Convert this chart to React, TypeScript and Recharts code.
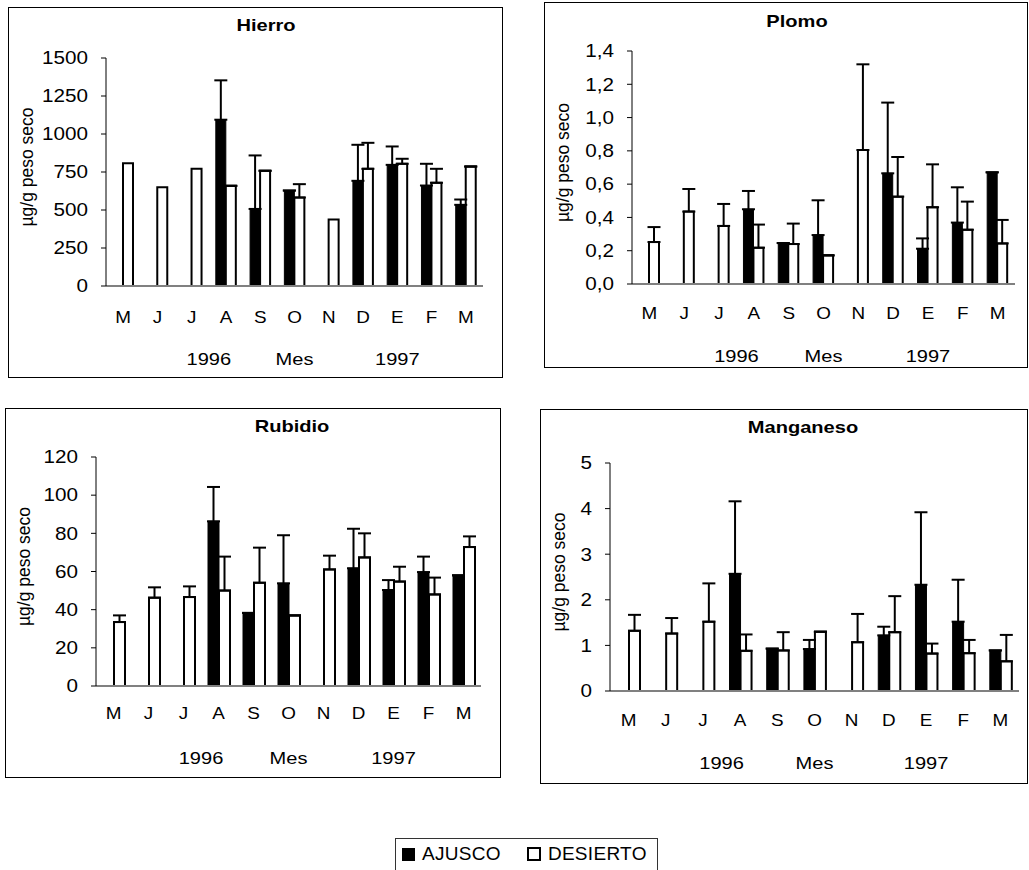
import React from 'react';
import { BarChart, Bar, XAxis, YAxis, ErrorBar } from 'recharts';

const MONTHS = ['M', 'J', 'J', 'A', 'S', 'O', 'N', 'D', 'E', 'F', 'M'];
const YEAR_LABELS = ['1996', 'Mes', '1997'];
const YEAR_POS = [3, 5.5, 8.5];
const SERIES = ['AJUSCO', 'DESIERTO'];
const Y_LABEL = 'µg/g peso seco';

// Hierro
const FE_AJUSCO = [null, null, null, 1094, 507, 628, null, 692, 797, 661, 534];
const FE_AJUSCO_ERR = [null, null, null, 259, 352, 0, null, 237, 121, 143, 35];
const FE_DESIERTO = [808, 650, 771, 659, 758, 582, 437, 771, 804, 679, 786];
const FE_DESIERTO_ERR = [null, null, null, 0, 0, 88, null, 171, 33, 92, 0];
const FE_TICKS = [0, 250, 500, 750, 1000, 1250, 1500];

// Plomo
const PB_AJUSCO = [null, null, null, 0.449, 0.246, 0.294, null, 0.665, 0.212, 0.369, 0.671];
const PB_AJUSCO_ERR = [null, null, null, 0.11, 0, 0.209, null, 0.425, 0.062, 0.212, 0];
const PB_DESIERTO = [0.252, 0.435, 0.349, 0.218, 0.24, 0.172, 0.805, 0.525, 0.461, 0.326, 0.244];
const PB_DESIERTO_ERR = [0.09, 0.136, 0.132, 0.139, 0.123, 0, 0.515, 0.238, 0.258, 0.169, 0.141];
const PB_TICKS = [0, 0.2, 0.4, 0.6, 0.8, 1.0, 1.2, 1.4];

// Rubidio
const RB_AJUSCO = [null, null, null, 86.3, 38.3, 53.8, null, 61.7, 50.3, 59.7, 58.0];
const RB_AJUSCO_ERR = [null, null, null, 18.0, 0, 25.2, null, 20.7, 5.2, 8.1, 0];
const RB_DESIERTO = [33.5, 46.3, 46.6, 50.0, 54.1, 37.0, 61.1, 67.4, 54.7, 48.0, 72.8];
const RB_DESIERTO_ERR = [3.5, 5.4, 5.6, 17.8, 18.4, 0, 7.2, 12.6, 7.8, 8.8, 5.6];
const RB_TICKS = [0, 20, 40, 60, 80, 100, 120];

// Manganeso
const MN_AJUSCO = [null, null, null, 2.57, 0.93, 0.92, null, 1.22, 2.33, 1.52, 0.89];
const MN_AJUSCO_ERR = [null, null, null, 1.59, 0, 0.2, null, 0.19, 1.59, 0.92, 0];
const MN_DESIERTO = [1.32, 1.26, 1.52, 0.88, 0.89, 1.3, 1.07, 1.29, 0.82, 0.83, 0.65];
const MN_DESIERTO_ERR = [0.35, 0.34, 0.84, 0.36, 0.4, 0, 0.62, 0.79, 0.22, 0.29, 0.58];
const MN_TICKS = [0, 1, 2, 3, 4, 5];

const FONT = '"Liberation Sans", Arial, Helvetica, sans-serif';
const SX = 1.18; // the source image is a bit stretched horizontally
const GRAY = '#808080';

const buildRows = (a: (number | null)[], aErr: (number | null)[], d: (number | null)[], dErr: (number | null)[]) =>
  MONTHS.map((m, i) => ({
    m,
    pos: i + 0.5,
    a: a[i],
    d: d[i],
    ea: aErr[i] == null ? null : [0, aErr[i]],
    ed: dErr[i] == null ? null : [0, dErr[i]],
  }));

const plain = (v: number) => String(v);
const comma = (v: number) => v.toFixed(1).replace('.', ',');

const PANELS = [
  {
    title: 'Hierro', rows: buildRows(FE_AJUSCO, FE_AJUSCO_ERR, FE_DESIERTO, FE_DESIERTO_ERR),
    ticks: FE_TICKS, fmt: plain,
    frame: { x: 8, y: 7, w: 495, h: 371 }, plot: { l: 106, r: 483, t: 58, b: 286 },
    monthTop: 312, yearTop: 353, titleAt: [258, 19],
  },
  {
    title: 'Plomo', rows: buildRows(PB_AJUSCO, PB_AJUSCO_ERR, PB_DESIERTO, PB_DESIERTO_ERR),
    ticks: PB_TICKS, fmt: comma,
    frame: { x: 544, y: 2, w: 484, h: 366 }, plot: { l: 632, r: 1015, t: 51, b: 284 },
    monthTop: 308, yearTop: 350, titleAt: [253, 20],
  },
  {
    title: 'Rubidio', rows: buildRows(RB_AJUSCO, RB_AJUSCO_ERR, RB_DESIERTO, RB_DESIERTO_ERR),
    ticks: RB_TICKS, fmt: plain,
    frame: { x: 5, y: 408, w: 496, h: 370 }, plot: { l: 96, r: 481, t: 457, b: 686 },
    monthTop: 708, yearTop: 752, titleAt: [287, 19],
  },
  {
    title: 'Manganeso', rows: buildRows(MN_AJUSCO, MN_AJUSCO_ERR, MN_DESIERTO, MN_DESIERTO_ERR),
    ticks: MN_TICKS, fmt: plain,
    frame: { x: 540, y: 409, w: 488, h: 375 }, plot: { l: 610, r: 1019, t: 463, b: 691 },
    monthTop: 715, yearTop: 757, titleAt: [263, 19],
  },
];

const YTick = ({ x, y, payload, fmt }: any) => (
  <text transform={`translate(${x},${y}) scale(${SX},1)`} textAnchor="end" dy="0.36em"
    fontSize={17.5} fontFamily={FONT} fill="#000">{fmt(payload.value)}</text>
);

const MonthTick = ({ x, y, payload }: any) => (
  <text transform={`translate(${x},${y}) scale(${SX},1)`} textAnchor="middle" dy="0.71em"
    fontSize={16} fontFamily={FONT} fill="#000">{payload.value}</text>
);

const YearTick = ({ x, y, payload }: any) => (
  <text transform={`translate(${x},${y}) scale(${SX},1)`} textAnchor="middle" dy="0.71em"
    fontSize={17} fontFamily={FONT} fill="#000">{YEAR_LABELS[YEAR_POS.indexOf(payload.value)]}</text>
);

const YLabel = ({ viewBox, value }: any) => {
  const cx = (viewBox?.x ?? 0) + 18;
  const cy = (viewBox?.y ?? 0) + (viewBox?.height ?? 0) / 2 - 5;
  return (
    <text x={cx} y={cy} transform={`rotate(-90, ${cx}, ${cy})`} textAnchor="middle" dy="0.35em"
      fontSize={17.5} fontFamily={FONT} fill="#000">{value}</text>
  );
};

const Panel = ({ p }: { p: typeof PANELS[number] }) => {
  const { frame, plot } = p;
  const ox = frame.x + 1;
  const oy = frame.y + 1;
  const cw = frame.w - 2;
  const ch = frame.h - 2;
  const yAxisW = plot.l - ox;
  const monthH = 40;
  const yearH = ch - (plot.b - oy) - monthH;
  const bs = Math.round(((plot.r - plot.l) / MONTHS.length) * 0.3);
  const max = p.ticks[p.ticks.length - 1];

  return (
    <div style={{ position: 'absolute', left: frame.x, top: frame.y, width: frame.w, height: frame.h, border: '1px solid #000', boxSizing: 'border-box' }}>
      <div style={{ position: 'absolute', left: p.titleAt[0] - 1, top: p.titleAt[1] - 1, transform: `translate(-50%, -50%) scaleX(${SX})`, fontFamily: FONT, fontWeight: 'bold', fontSize: 17, whiteSpace: 'nowrap', lineHeight: '20px' }}>
        {p.title}
      </div>
      <BarChart width={cw} height={ch} data={p.rows} barGap={0}
        margin={{ top: plot.t - oy, right: cw - (plot.r - ox), left: 0, bottom: 0 }}>
        <XAxis xAxisId="m" dataKey="m" interval={0} tickLine={false} tickSize={0} tickMargin={p.monthTop - plot.b}
          height={monthH} axisLine={{ stroke: GRAY, strokeWidth: 2 }} tick={(t: any) => <MonthTick {...t} />} />
        <XAxis xAxisId="yr" dataKey="pos" type="number" domain={[0, MONTHS.length]} ticks={YEAR_POS} allowDataOverflow
          interval={0} tickLine={false} axisLine={false} tickSize={0} tickMargin={p.yearTop - plot.b - monthH}
          height={yearH} tick={(t: any) => <YearTick {...t} />} />
        <XAxis xAxisId="top" dataKey="m" orientation="top" height={0} tick={false} tickLine={false}
          axisLine={{ stroke: GRAY, strokeWidth: 2 }} />
        <YAxis yAxisId="l" width={yAxisW} domain={[0, max]} ticks={p.ticks} interval={0} allowDataOverflow
          axisLine={{ stroke: '#000', strokeWidth: 1 }} tickLine={{ stroke: '#000' }} tickSize={5} tickMargin={13}
          tick={(t: any) => <YTick {...t} fmt={p.fmt} />}
          label={{ value: Y_LABEL, content: (l: any) => <YLabel {...l} /> }} />
        <YAxis yAxisId="r" orientation="right" width={0} domain={[0, 1]} tick={false} tickLine={false}
          axisLine={{ stroke: GRAY, strokeWidth: 2 }} />
        <Bar xAxisId="m" yAxisId="l" dataKey="a" name={SERIES[0]} fill="#000" stroke="#000" strokeWidth={1}
          barSize={bs} isAnimationActive={false}>
          <ErrorBar dataKey="ea" width={6.5} stroke="#000" strokeWidth={2} direction="y" isAnimationActive={false} />
        </Bar>
        <Bar xAxisId="m" yAxisId="l" dataKey="d" name={SERIES[1]} fill="#fff" stroke="#000" strokeWidth={2}
          barSize={bs} isAnimationActive={false}>
          <ErrorBar dataKey="ed" width={6.5} stroke="#000" strokeWidth={2} direction="y" isAnimationActive={false} />
        </Bar>
      </BarChart>
    </div>
  );
};

const LegendBox = () => (
  <div style={{ position: 'absolute', left: 395, top: 838, width: 263, height: 40, border: '1px solid #333', boxSizing: 'border-box', display: 'flex', alignItems: 'flex-start', paddingTop: 7, paddingLeft: 6, fontFamily: FONT, fontSize: 19, lineHeight: '16px', letterSpacing: 0.3 }}>
    {SERIES.map((s, i) => (
      <div key={s} style={{ display: 'flex', alignItems: 'center', marginRight: 26 }}>
        <span style={{ display: 'inline-block', width: i === 0 ? 13 : 10, height: i === 0 ? 13 : 10, background: i === 0 ? '#000' : '#fff', border: i === 0 ? 'none' : '2px solid #000', marginRight: 7 }} />
        <span>{s}</span>
      </div>
    ))}
  </div>
);

export default function App() {
  return (
    <div style={{ position: 'absolute', left: 0, top: 0, width: 1029, height: 870, background: '#fff', overflow: 'hidden' }}>
      {PANELS.map((p) => <Panel key={p.title} p={p} />)}
      <LegendBox />
    </div>
  );
}
